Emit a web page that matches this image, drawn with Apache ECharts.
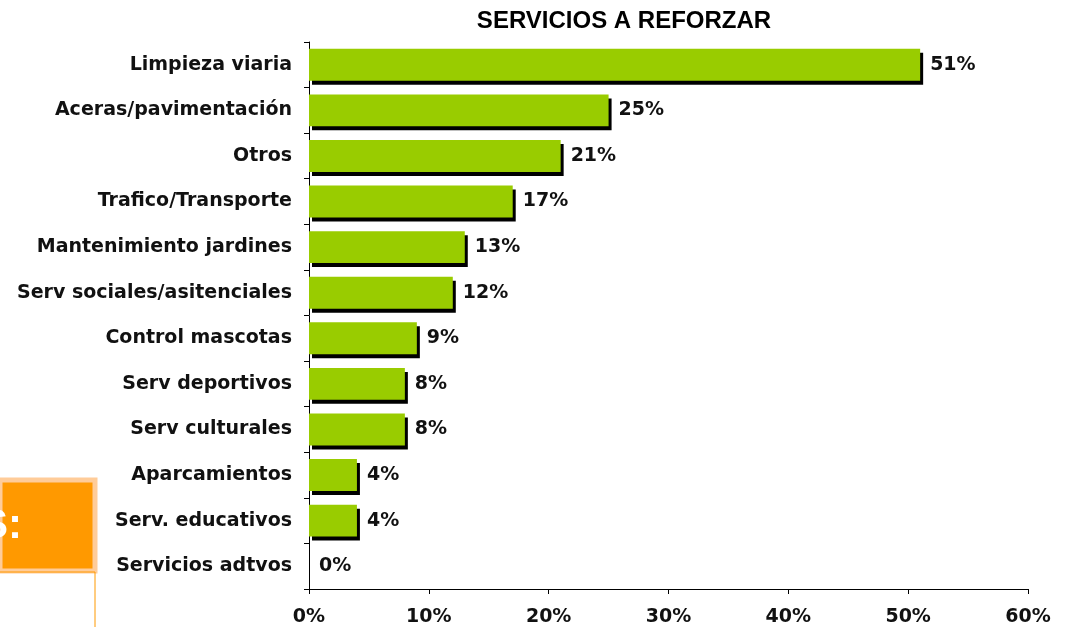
<!DOCTYPE html>
<html>
<head>
<meta charset="utf-8">
<script src="https://cdn.jsdelivr.net/npm/echarts@6/dist/echarts.min.js"></script>
<style>
  html, body { margin: 0; padding: 0; background: #fff; }
  #chart { width: 1073px; height: 627px; }
</style>
</head>
<body>
<div id="chart"></div>
<script>
const categories = [
  'Limpieza viaria', 'Aceras/pavimentación', 'Otros', 'Trafico/Transporte',
  'Mantenimiento jardines', 'Serv sociales/asitenciales', 'Control mascotas',
  'Serv deportivos', 'Serv culturales', 'Aparcamientos', 'Serv. educativos',
  'Servicios adtvos'
]
const values = [51, 25, 21, 17, 13, 12, 9, 8, 8, 4, 4, 0]
const xTicks = [0, 10, 20, 30, 40, 50, 60]

const labelFont = {
  fontFamily: 'DejaVu Sans',
  fontWeight: 'bold',
  fontSize: 19,
  color: '#111'
}

let chart = echarts.init(document.getElementById('chart'))
let option = {
  animation: false,
  grid: {
    left: 309,
    right: 45,
    top: 42,
    bottom: 38,
    containLabel: false
  },
  xAxis: {
    type: 'value',
    min: xTicks[0],
    max: xTicks[xTicks.length - 1],
    interval: 10,
    axisLine: { show: true, lineStyle: { color: '#000', width: 1 } },
    axisTick: { show: true, length: 5, lineStyle: { color: '#000' } },
    splitLine: { show: false },
    axisLabel: {
      ...labelFont,
      margin: 19,
      formatter: '{value}%'
    }
  },
  yAxis: {
    type: 'category',
    inverse: true,
    data: categories,
    axisLine: { show: true, lineStyle: { color: '#000', width: 1 } },
    axisTick: { show: true, length: 5, lineStyle: { color: '#000' } },
    splitLine: { show: false },
    axisLabel: {
      ...labelFont,
      margin: 17
    }
  },
  series: [{
    type: 'bar',
    data: values,
    barCategoryGap: '30%',
    itemStyle: {
      color: '#99CC00',
      shadowColor: '#000',
      shadowBlur: 0,
      shadowOffsetX: 3,
      shadowOffsetY: 4
    },
    label: {
      show: true,
      position: 'right',
      distance: 10,
      ...labelFont,
      formatter: '{c}%'
    }
  }],
  graphic: [
    {
      type: 'text',
      x: 624,
      y: 21,
      style: {
        text: 'SERVICIOS A REFORZAR',
        textAlign: 'center',
        textVerticalAlign: 'middle',
        fontFamily: 'Liberation Sans',
        fontWeight: 'bold',
        fontSize: 24,
        fill: '#000'
      }
    },
    {
      type: 'rect',
      shape: { x: 0, y: 480, width: 95, height: 91 },
      style: { fill: '#FF9900', stroke: '#FFCC99', lineWidth: 5 }
    },
    {
      type: 'text',
      x: 22,
      y: 526,
      style: {
        text: 'S:',
        textAlign: 'right',
        textVerticalAlign: 'middle',
        fontFamily: 'Liberation Sans',
        fontWeight: 'bold',
        fontSize: 42,
        fill: '#fff'
      }
    },
    {
      type: 'polyline',
      shape: { points: [[0, 572], [95, 572], [95, 627]] },
      style: { stroke: '#FF9900', lineWidth: 1, fill: null }
    }
  ]
}
chart.setOption(option)
</script>
</body>
</html>
